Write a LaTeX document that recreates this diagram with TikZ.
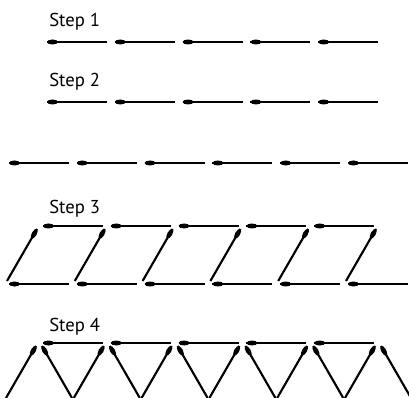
\documentclass[tikz,border=0pt]{standalone}
\usepackage{fontspec}
\setmainfont{PT Sans}
\usepackage{tikz}

\begin{document}
\begin{tikzpicture}[
  x=0.75pt, y=-0.75pt,
  steplabel/.style={anchor=base west, inner sep=0pt, font=\fontsize{14pt}{17pt}\selectfont},
  stickline/.style={line width=1.6pt},
  pics/matchstick/.style={code={
    \fill (5.5,0) ellipse [x radius=5.5, y radius=2.5];
    \draw[stickline] (0,0) -- (60,0);
  }},
]
\useasboundingbox (0,0) rectangle (409,398);
\clip (0,0) rectangle (409,398);

% step 1
\node[steplabel] (s1) at (49,26.7) {Step 1};
\foreach \k in {0,...,4} \pic at ({47+67.8*\k},42) {matchstick};

% step 2
\node[steplabel] (s2) at (49,86.7) {Step 2};
\foreach \k in {0,...,4} \pic at ({47+67.8*\k},102) {matchstick};
\foreach \k in {0,...,5} \pic at ({9+67.8*\k},163) {matchstick};

% step 3
\node[steplabel] (s3) at (49,213.3) {Step 3};
\foreach \k in {0,...,4} \pic at ({43+67.8*\k},226) {matchstick};
\foreach \k in {0,...,5} {
  \pic[rotate=240] at ({37+67.8*\k},229) {matchstick};
  \pic at ({9+67.8*\k},284) {matchstick};
}

% step 4
\node[steplabel] (s4) at (49,331.7) {Step 4};
\foreach \k in {0,...,4} \pic at ({43+67.8*\k},343) {matchstick};
\foreach \k in {0,...,5} {
  \pic[rotate=240] at ({36+67.8*\k},346) {matchstick};
  \pic[rotate=300] at ({42+67.8*\k},346) {matchstick};
}
\end{tikzpicture}
\end{document}
